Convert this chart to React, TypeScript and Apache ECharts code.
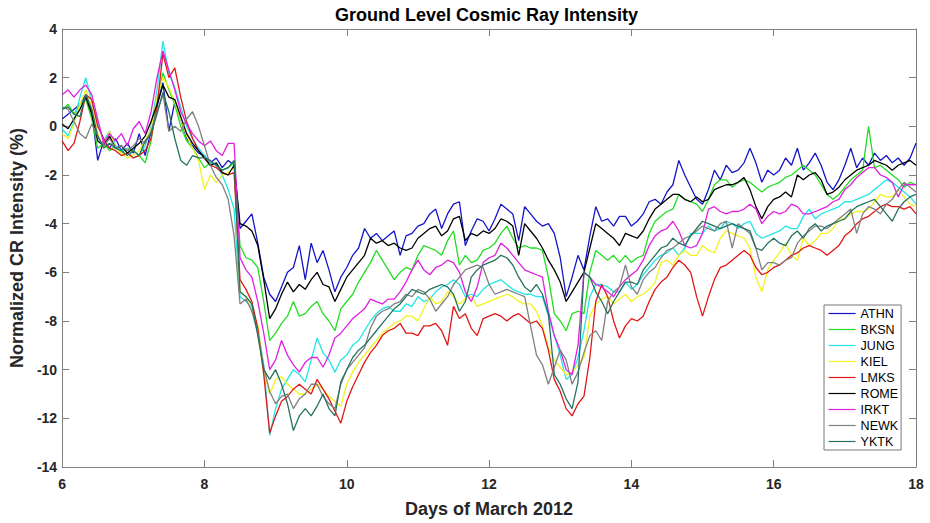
import React, { useEffect, useRef } from "react";
import * as echarts from "echarts";

// Stations and their line colours
const STATIONS = ["ATHN", "BKSN", "JUNG", "KIEL", "LMKS", "ROME", "IRKT", "NEWK", "YKTK"];
const COLORS = ["#1515c8", "#22dd22", "#22e5e5", "#f2f220", "#e01818", "#000000", "#e020e0", "#808080", "#267361"];

// Sampling: every 2 hours from day 6.0 to day 18.0 of March 2012
const START_DAY = 6;
const STEP_HOURS = 2;

const X_TICKS = [6, 8, 10, 12, 14, 16, 18];
const Y_TICKS = [-14, -12, -10, -8, -6, -4, -2, 0, 2, 4];

// Normalized CR intensity (%), one row per day (12 samples) + final value at day 18
const ATHN = [
  0.3, 0.5, 0.7, 0.9, 1.3, 0.6, -1.4, -0.6, -0.9, -0.5, -1.0, -0.7,
  -1.1, -0.3, -1.2, -0.2, 0.8, 1.8, -0.2, 1.0, 0.3, -0.5, -0.8, -1.1,
  -1.2, -1.5, -1.3, -1.7, -1.4, -1.6, -4.2, -3.9, -3.6, -4.8, -6.2, -6.9,
  -7.2, -6.6, -6.0, -5.8, -4.9, -6.3, -4.8, -5.6, -5.1, -5.9, -6.8, -6.2,
  -5.8, -5.3, -5.0, -4.2, -4.6, -4.4, -4.7, -4.5, -4.3, -5.3, -4.5, -4.4,
  -4.1, -4.0, -3.6, -3.4, -4.2, -3.6, -3.2, -3.1, -4.9, -4.3, -3.8, -3.9,
  -4.3, -3.8, -3.2, -3.4, -3.6, -4.7, -3.3, -3.6, -3.9, -4.1, -4.0, -4.4,
  -5.4, -7.0, -6.2, -5.3, -5.9, -4.5, -3.3, -3.9, -3.8, -4.1, -3.7, -3.7,
  -4.1, -3.9, -3.6, -3.1, -3.0, -3.2, -2.7, -2.4, -1.4, -2.0, -2.5, -3.0,
  -3.2, -2.6, -1.8, -2.2, -1.6, -1.9, -1.8, -1.5, -0.9, -1.5, -2.3, -1.8,
  -2.0, -1.8, -1.3, -1.6, -0.9, -1.8, -1.5, -1.1, -1.6, -2.3, -2.6, -2.2,
  -1.6, -0.9, -1.7, -1.3, -1.6, -1.1, -1.4, -1.2, -1.5, -1.3, -1.6, -1.3,
  -0.7,
];

const BKSN = [
  0.7, 0.9, 0.5, 0.9, 1.1, 0.3, -0.9, -0.7, -1.0, -0.8, -1.1, -0.9,
  -1.0, -1.2, -1.5, -0.6, 1.0, 2.2, 1.5, 0.9, 0.0, -0.6, -0.9, -1.3,
  -1.7, -1.5, -1.6, -1.8, -1.7, -1.5, -4.9, -5.4, -5.5, -5.8, -7.2, -8.8,
  -8.5, -8.1, -7.8, -7.2, -7.8, -7.7, -7.4, -7.2, -7.7, -8.0, -8.4, -7.5,
  -7.2, -6.9, -6.4, -6.0, -5.6, -5.1, -5.5, -5.9, -6.3, -6.0, -5.8, -5.9,
  -5.3, -4.9, -5.0, -5.1, -5.3, -4.7, -4.3, -5.7, -5.3, -5.6, -5.5, -5.1,
  -5.0, -4.8, -4.4, -4.1, -4.6, -5.0, -4.9, -5.0, -5.0, -5.1, -6.2, -7.7,
  -8.0, -8.4, -7.7, -7.6, -7.7, -6.0, -5.1, -5.3, -5.5, -5.3, -5.6, -5.3,
  -5.6, -5.4, -5.3, -4.4, -3.9, -3.7, -3.5, -3.4, -2.8, -3.0, -3.1, -3.2,
  -3.5, -3.0, -2.4, -2.2, -2.2, -2.5, -2.3, -2.2, -2.3, -2.5, -2.7, -2.5,
  -2.4, -2.3, -2.1, -2.0, -1.8, -1.6, -1.8, -2.0, -2.4, -2.8, -3.0, -2.8,
  -2.5, -2.2, -2.0, -1.8, 0.0, -1.7, -1.6, -1.8, -2.0, -2.2, -2.5, -2.3,
  -2.4,
];

const JUNG = [
  -0.1, -0.4, 0.2, 1.2, 2.0, 1.0, 0.2, -0.6, -0.2, -0.8, -1.0, -0.9,
  -1.3, -1.2, -0.8, 0.0, 1.5, 3.5, 2.2, 1.6, 0.8, 0.0, -0.5, -0.9,
  -1.2, -1.5, -1.6, -2.0, -2.6, -3.4, -7.0, -7.2, -7.4, -8.3, -9.8, -12.7,
  -11.6, -10.8, -10.4, -10.0, -10.2, -10.5, -9.6, -8.7, -9.3, -9.6, -10.1, -9.6,
  -9.4, -9.0, -8.8, -8.4, -8.0, -7.7, -7.5, -7.4, -7.6, -7.6, -7.3, -7.4,
  -7.0, -7.2, -7.1, -6.8, -6.6, -6.5, -6.3, -6.5, -7.0, -6.9, -7.0, -6.7,
  -6.5, -6.4, -6.3, -6.5, -6.7, -6.8, -6.9, -6.9, -7.0, -7.0, -7.8, -8.6,
  -9.4, -10.4, -10.2, -9.5, -8.4, -7.0, -6.5, -6.5, -6.6, -6.8, -6.8, -6.4,
  -6.7, -6.5, -6.1, -5.8, -5.5, -5.3, -5.2, -5.0, -5.3, -5.0, -4.4, -4.4,
  -4.4, -4.1, -4.3, -4.2, -3.9, -4.0, -4.2, -4.0, -3.9, -4.4, -4.6, -4.5,
  -4.4, -4.3, -4.1, -4.2, -4.2, -3.7, -3.4, -3.8, -3.6, -3.5, -3.4, -3.3,
  -3.1, -3.1, -3.0, -2.9, -2.8, -2.6, -2.4, -2.2, -2.3, -2.5, -2.7, -2.9,
  -3.2,
];

const KIEL = [
  -0.3, -0.5, 0.1, 0.9, 1.5, 0.8, -0.3, -0.9, -0.2, -0.9, -1.1, -1.3,
  -1.2, -1.0, -0.6, -0.1, 1.2, 2.0, 1.6, 1.0, 0.3, -0.4, -0.9, -1.4,
  -2.6, -2.0, -2.3, -2.0, -1.9, -1.7, -6.8, -7.0, -7.6, -8.2, -10.0, -11.0,
  -10.4, -10.3, -10.6, -10.8, -11.0, -11.0, -10.8, -10.6, -10.8, -11.1, -11.3, -11.5,
  -10.6, -10.1, -9.7, -9.4, -9.1, -8.8, -8.5, -8.3, -8.1, -8.0, -7.8, -7.8,
  -8.0, -7.5, -7.0, -7.3, -7.2, -6.8, -7.0, -7.3, -7.1, -7.0, -7.4, -7.3,
  -7.2, -7.1, -7.0, -6.9, -7.0, -7.2, -7.3, -7.3, -7.6, -8.2, -9.1, -9.6,
  -9.9, -10.2, -10.1, -9.8, -9.5, -7.8, -7.3, -7.1, -7.0, -7.3, -7.1, -6.9,
  -7.2, -7.0, -6.9, -6.7, -6.4, -5.6, -5.5, -5.7, -5.3, -5.1, -5.3, -5.3,
  -4.9, -5.1, -5.2, -4.6, -4.3, -4.4, -4.5, -4.6, -5.0, -6.2, -6.8, -5.9,
  -5.5, -5.2, -4.8, -5.3, -5.5, -4.6, -4.9, -4.7, -4.4, -4.4, -4.2, -3.8,
  -3.8, -3.6, -3.5, -3.5, -3.4, -3.1, -2.8, -2.9, -2.9, -2.6, -2.9, -3.2,
  -3.3,
];

const LMKS = [
  -0.6, -1.0, -0.7, 0.2, 1.3, 1.1, 0.0, -0.5, -0.9, -1.0, -1.2, -1.1,
  -1.3, -1.2, -1.0, -0.5, 0.8, 3.0, 2.0, 2.4, 1.2, 0.2, -0.5, -1.0,
  -1.3, -1.6, -1.7, -1.9, -2.0, -1.9, -6.3, -6.7, -7.2, -8.3, -10.2, -12.6,
  -11.9, -11.3, -11.1, -10.8, -10.6, -10.8, -11.0, -10.4, -10.8, -11.2, -11.7, -12.2,
  -11.3, -10.7, -10.2, -9.7, -9.3, -9.0, -8.6, -8.4, -8.3, -8.1, -8.5, -8.5,
  -8.6, -8.2, -8.2, -8.1, -8.4, -9.0, -7.4, -7.9, -7.7, -8.3, -8.6, -7.9,
  -7.8, -7.7, -7.8, -8.0, -7.8, -7.7, -7.9, -8.1, -8.0, -8.3, -9.2, -10.4,
  -10.9, -11.6, -11.9, -11.4, -11.1, -9.5, -7.2, -6.5, -7.0, -8.0, -8.7, -8.2,
  -7.9, -8.0, -7.8, -7.2, -6.7, -6.4, -6.2, -5.8, -5.5, -5.7, -6.0, -7.0,
  -7.8, -7.0, -6.3, -5.8, -5.7, -5.5, -5.3, -5.1, -5.3, -5.8, -6.1, -6.0,
  -5.8, -5.7, -5.5, -5.3, -5.2, -5.0, -4.9, -5.0, -5.1, -5.3, -5.1, -4.9,
  -4.5, -4.3, -4.0, -3.8, -3.7, -3.5, -3.3, -3.2, -3.3, -3.3, -3.4, -3.3,
  -3.6,
];

const ROME = [
  0.1, -0.1, 0.3, 0.7, 1.2, 0.5, -0.6, -0.8, -0.4, -0.9, -0.8, -1.1,
  -0.9, -0.7, -0.4, 0.2, 0.9, 1.7, 1.2, 1.1, 0.4, -0.3, -0.7, -1.0,
  -1.3, -1.6, -1.5, -1.9, -2.0, -1.6, -4.0, -4.1, -4.3, -4.9, -6.3, -7.9,
  -7.5, -6.9, -6.4, -6.8, -6.5, -6.7, -6.3, -6.0, -6.5, -6.6, -7.2, -6.7,
  -6.2, -5.9, -5.6, -5.3, -4.6, -4.8, -4.7, -4.9, -4.8, -5.0, -5.1, -5.0,
  -4.6, -4.4, -4.2, -4.1, -4.5, -4.3, -3.8, -3.7, -4.7, -4.4, -4.5, -4.3,
  -4.4, -4.2, -3.8, -3.9, -4.1, -5.3, -4.0, -4.3, -4.6, -5.0, -5.5, -5.9,
  -6.4, -7.2, -6.8, -6.4, -6.0, -5.0, -4.0, -4.2, -4.4, -4.6, -4.9, -4.4,
  -4.5, -4.6, -4.3, -3.8, -3.4, -3.2, -3.0, -2.8, -2.8, -3.0, -3.1, -2.9,
  -3.1, -3.0, -2.6, -2.5, -2.4, -2.4, -2.3, -2.1, -2.6, -3.3, -3.8, -3.3,
  -3.0, -2.9, -2.7, -2.9, -2.0, -2.2, -2.0, -1.9, -2.2, -2.8, -2.7, -2.5,
  -2.2, -2.0, -1.8, -1.7, -1.6, -1.4, -1.5, -1.6, -1.8, -1.6, -1.5, -1.4,
  -1.6,
];

const IRKT = [
  1.3, 1.5, 1.2, 1.5, 1.7, 1.3, 0.3, -0.7, -0.3, -0.6, -0.3, -0.8,
  -0.1, 0.2, -0.3, 0.6, 2.0, 3.1, 2.3, 1.5, 0.6, 0.1, -0.3, -0.6,
  -0.8, -0.6, -1.0, -1.2, -0.7, -0.7, -5.4, -5.9, -6.2, -7.2, -8.5, -10.0,
  -9.6, -8.8, -9.4, -9.8, -10.1, -9.7, -9.5, -9.5, -9.9, -9.4, -8.7, -8.5,
  -8.2, -7.9, -7.7, -7.5, -7.1, -7.2, -7.3, -7.1, -7.1, -6.8, -6.4, -5.9,
  -5.5, -5.9, -6.1, -5.8, -5.7, -5.5, -5.6, -6.0, -6.8, -7.2, -6.6, -5.6,
  -5.4, -5.3, -4.8, -5.0, -5.3, -5.6, -5.9, -6.0, -6.1, -6.2, -7.6, -8.6,
  -9.2, -10.0, -10.2, -9.0, -6.0, -6.2, -6.5, -6.6, -6.8, -7.0, -6.6, -6.3,
  -6.1, -5.9, -5.5, -4.9, -4.5, -4.3, -4.2, -3.9, -4.3, -4.9, -5.0, -4.9,
  -4.4, -3.4, -3.3, -3.5, -3.6, -3.5, -3.5, -3.4, -3.2, -3.4, -4.0, -3.7,
  -3.5, -3.6, -3.5, -3.2, -3.3, -3.6, -3.6, -3.5, -3.4, -3.3, -3.1, -3.0,
  -2.6, -2.4, -2.1, -1.9, -1.7, -1.7, -2.0, -2.1, -2.3, -2.9, -2.4, -2.4,
  -2.4,
];

const NEWK = [
  0.8, 0.7, 0.2, -0.3, -0.5, 0.1, -0.4, -0.8, -0.5, -0.9, -0.8, -1.0,
  -0.8, -0.5, -0.7, -0.2, 0.6, 1.3, -0.2, 0.0, -0.2, 0.3, 0.6, 0.0,
  -0.8, -1.6, -2.1, -2.4, -3.0, -4.5, -7.3, -7.1, -7.6, -8.5, -9.9, -10.9,
  -11.4, -11.1, -11.0, -11.6, -11.2, -11.0, -10.6, -10.6, -11.1, -11.4, -11.6, -10.6,
  -10.0, -9.7, -9.4, -9.1, -8.3, -7.8, -7.6, -7.5, -7.3, -7.2, -6.9, -7.0,
  -6.7, -6.8, -7.1, -7.6, -7.3, -7.0, -6.5, -6.2, -5.9, -5.8, -5.7, -5.8,
  -6.5, -6.9, -6.8, -6.7, -6.8, -6.9, -7.0, -8.2, -9.4, -9.8, -10.6, -9.9,
  -9.2, -9.6, -10.6, -10.1, -9.3, -8.6, -8.4, -8.8, -7.2, -6.8, -6.6, -5.7,
  -6.6, -6.9, -6.3, -6.0, -5.8, -5.4, -5.1, -5.0, -4.8, -4.6, -4.5, -4.3,
  -4.1, -4.2, -4.3, -4.0, -3.9, -5.0, -4.0, -4.2, -4.4, -5.0, -5.9, -5.6,
  -5.6, -5.7, -5.5, -5.4, -4.8, -4.5, -4.3, -4.1, -4.1, -4.2, -4.0, -3.8,
  -3.6, -3.4, -4.4, -3.6, -3.3, -3.4, -3.6, -3.2, -3.0, -2.6, -2.3, -2.5,
  -2.7,
];

const YKTK = [
  0.7, 0.8, 0.5, 0.4, 1.3, 0.7, -0.4, -0.9, -0.7, -0.9, -1.0, -1.2,
  -1.0, -1.2, -0.6, -0.3, 0.5, 1.4, 0.6, -0.5, -1.4, -1.6, -1.2, -1.3,
  -1.3, -1.4, -1.6, -1.8, -1.7, -1.4, -6.8, -7.0, -7.3, -8.6, -10.0, -10.4,
  -10.0, -10.6, -11.4, -12.5, -11.9, -11.6, -11.9, -11.5, -11.0, -11.6, -11.9, -10.5,
  -10.0, -9.5, -9.2, -9.0, -8.7, -8.4, -8.1, -7.8, -7.5, -7.3, -7.0, -6.7,
  -6.8, -6.9, -6.7, -6.6, -6.5, -6.6, -6.9, -7.6, -7.2, -6.2, -5.9, -5.7,
  -5.6, -5.5, -5.3, -5.4, -5.7, -6.2, -6.6, -6.8, -6.5, -6.9, -7.7, -10.2,
  -10.6, -11.2, -11.6, -10.5, -6.0, -6.2, -6.8, -7.2, -7.7, -7.2, -6.8, -6.4,
  -6.4, -6.5, -5.9, -5.6, -5.3, -5.0, -4.9, -4.6, -4.8, -4.9, -4.5, -4.2,
  -3.9, -4.0, -4.1, -4.2, -4.1, -4.0, -4.1, -4.2, -4.3, -5.0, -5.1, -4.8,
  -4.6, -4.8, -4.9, -4.5, -4.3, -4.6, -4.2, -4.0, -4.3, -4.1, -4.0, -3.9,
  -3.8, -3.5, -3.3, -3.2, -3.1, -3.0, -3.3, -3.6, -3.9, -3.4, -3.1, -2.9,
  -2.8,
];

const VALUES = [ATHN, BKSN, JUNG, KIEL, LMKS, ROME, IRKT, NEWK, YKTK];
const DAYS = ATHN.map((_, i) => START_DAY + (i * STEP_HOURS) / 24);

const FONT = "'Liberation Sans', Arial, Helvetica, sans-serif";
const AXIS_GRAY = "#808080";
const TEXT_DARK = "#262626";

export default function App() {
  const ref = useRef<HTMLDivElement | null>(null);

  useEffect(() => {
    if (!ref.current) return;
    const chart = echarts.init(ref.current, undefined, { renderer: "svg" });

    const xBase = {
      type: "value" as const,
      min: X_TICKS[0],
      max: X_TICKS[X_TICKS.length - 1],
      interval: X_TICKS[1] - X_TICKS[0],
      splitLine: { show: false },
      axisLine: { show: true, onZero: false, lineStyle: { color: AXIS_GRAY, width: 1 } },
      axisTick: { show: true, inside: true, length: 7, lineStyle: { color: AXIS_GRAY, width: 1 } },
    };
    const yBase = {
      type: "value" as const,
      min: Y_TICKS[0],
      max: Y_TICKS[Y_TICKS.length - 1],
      interval: Y_TICKS[1] - Y_TICKS[0],
      splitLine: { show: false },
      axisLine: { show: true, onZero: false, lineStyle: { color: AXIS_GRAY, width: 1 } },
      axisTick: { show: true, inside: true, length: 7, lineStyle: { color: AXIS_GRAY, width: 1 } },
    };

    chart.setOption({
      animation: false,
      backgroundColor: "#ffffff",
      title: {
        text: "Ground Level Cosmic Ray Intensity",
        left: 486.5,
        top: 6,
        padding: 0,
        textAlign: "center",
        textStyle: { fontFamily: FONT, fontSize: 18, fontWeight: "bold", color: "#000000" },
      },
      grid: { left: 57, right: 14, top: 29, bottom: 52, containLabel: false },
      legend: {
        orient: "vertical",
        left: 824,
        top: 305,
        itemWidth: 27,
        itemHeight: 14,
        itemGap: 3,
        padding: [2, 3, 2, 4],
        borderColor: "#777777",
        borderWidth: 1,
        backgroundColor: "#ffffff",
        itemStyle: { opacity: 0, borderWidth: 0 },
        lineStyle: { width: 1.2 },
        textStyle: { fontFamily: FONT, fontSize: 12.5, color: "#000000" },
        data: STATIONS,
      },
      xAxis: [
        {
          ...xBase,
          position: "bottom",
          name: "Days of March 2012",
          nameLocation: "middle",
          nameGap: 33,
          nameTextStyle: { fontFamily: FONT, fontSize: 18, fontWeight: "bold", color: TEXT_DARK },
          axisLabel: { fontFamily: FONT, fontSize: 14, fontWeight: "bold", color: TEXT_DARK, margin: 10 },
        },
        { ...xBase, position: "top", axisLabel: { show: false } },
      ],
      yAxis: [
        {
          ...yBase,
          position: "left",
          name: "Normalized CR Intensity (%)",
          nameLocation: "middle",
          nameGap: 31,
          nameTextStyle: { fontFamily: FONT, fontSize: 18, fontWeight: "bold", color: TEXT_DARK },
          axisLabel: { fontFamily: FONT, fontSize: 14, fontWeight: "bold", color: TEXT_DARK, margin: 5 },
        },
        { ...yBase, position: "right", axisLabel: { show: false } },
      ],
      series: STATIONS.map((name, k) => ({
        name,
        type: "line",
        xAxisIndex: 0,
        yAxisIndex: 0,
        symbol: "none",
        silent: true,
        data: DAYS.map((d, i) => [d, VALUES[k][i]]),
        lineStyle: { color: COLORS[k], width: 1.3 },
        itemStyle: { color: COLORS[k] },
        emphasis: { disabled: true },
      })),
    });

    return () => chart.dispose();
  }, []);

  return (
    <div
      ref={ref}
      style={{ position: "absolute", left: 0, top: 0, width: 930, height: 523, background: "#fff" }}
    />
  );
}
